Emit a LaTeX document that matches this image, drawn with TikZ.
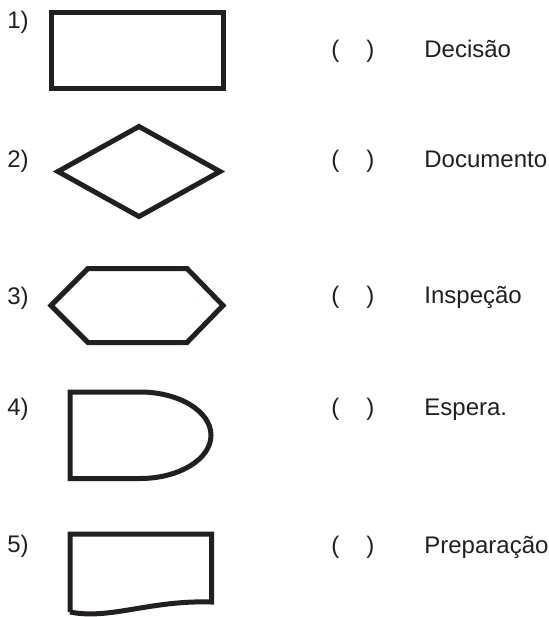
\documentclass[tikz,border=0pt]{standalone}
\usepackage{fontspec}
\setmainfont{Liberation Sans}
\definecolor{preto}{RGB}{35,31,32}

\begin{document}
\begin{tikzpicture}[x=0.5pt,y=-0.5pt,
    forma/.style={draw=preto,line width=2.5pt},
    rotulo/.style={anchor=base west,inner sep=0pt,text=preto,font=\fontsize{12}{14}\selectfont}]
    \useasboundingbox (0,0) rectangle (549,617);

    % Numeros das figuras
    \foreach \n/\y in {1/28,2/167,3/304,4/415,5/552}
        \node[rotulo] (num\n) at (7,\y) {\n)};

    % Figuras
    \draw[forma] (51,12.5) rectangle (223.5,88.5);
    \draw[forma] (58,171.5) -- (139,126.5) -- (220,171.5) -- (139,216.5) -- cycle;
    \draw[forma] (51,305.5) -- (88,268.5) -- (187,268.5) -- (223,305.5) -- (187,342.5) -- (88,342.5) -- cycle;
    \draw[forma] (140,392) -- (70,392) -- (70,478.5) -- (140,478.5)
        .. controls (179.2,478.5) and (211,459.1) .. (211,435.25)
        .. controls (211,411.4) and (179.2,392) .. cycle;
    \draw[forma] (70,612) -- (70,534) -- (211.5,534) -- (211.5,602)
        .. controls (150,600) and (110,620) .. (70,612);

    % Respostas
    \foreach \n/\y/\txt in {1/57/Decisão,2/167/Documento,3/303/Inspeção,4/415/Espera.,5/553/Preparação} {
        \node[rotulo] (abre\n) at (331,\y) {(};
        \node[rotulo] (fecha\n) at (366,\y) {)};
        \node[rotulo] (resp\n) at (424,\y) {\txt};
    }
\end{tikzpicture}
\end{document}
